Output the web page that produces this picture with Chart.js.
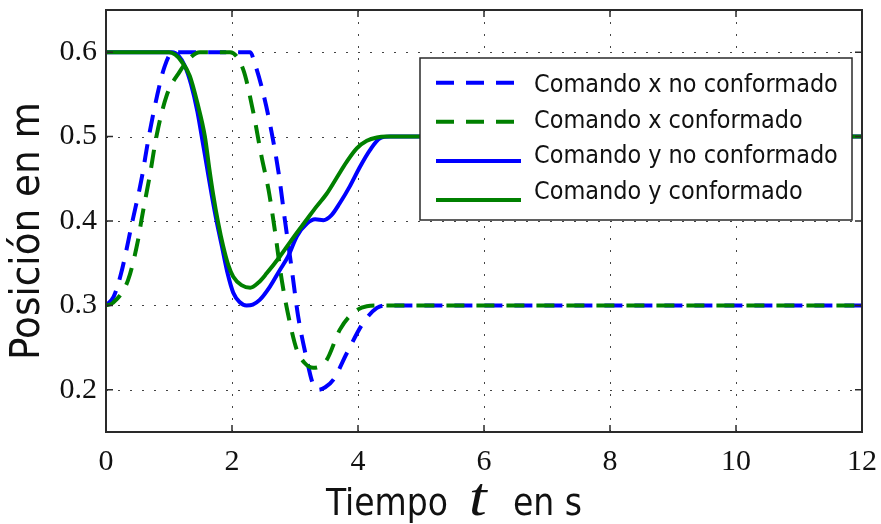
<!DOCTYPE html>
<html>
<head>
<meta charset="utf-8">
<script src="https://cdn.jsdelivr.net/npm/chart.js@4.4.1/dist/chart.umd.min.js"></script>
<style>
  html, body { margin: 0; padding: 0; background: #ffffff; }
  #wrap { width: 881px; height: 524px; }
</style>
</head>
<body>
<div id="wrap"><canvas id="c" width="881" height="524"></canvas></div>
<script>
// Command x, unshaped: time (s) and position (m)
const tXNoConf = [0, 0.12, 0.24, 0.42, 0.56, 0.68, 0.81, 0.93, 1.06, 2.29, 2.36, 2.47, 2.6, 2.74, 2.84, 2.95, 3.05, 3.19, 3.28, 3.37, 3.48, 3.61, 3.82, 4.08, 4.3, 4.45, 12];
const xNoConf  = [0.3, 0.31, 0.338, 0.4, 0.448, 0.5, 0.548, 0.583, 0.6, 0.6, 0.587, 0.559, 0.516, 0.457, 0.401, 0.342, 0.287, 0.235, 0.208, 0.2, 0.203, 0.212, 0.243, 0.279, 0.297, 0.3, 0.3];

// Command x, shaped
const tXConf = [0, 0.11, 0.35, 0.51, 0.56, 0.7, 0.8, 0.96, 1.17, 1.33, 1.49, 1.97, 2.18, 2.34, 2.47, 2.58, 2.68, 2.79, 2.92, 3.03, 3.15, 3.29, 3.5, 3.71, 3.92, 4.14, 4.35, 12];
const xConf  = [0.3, 0.303, 0.33, 0.378, 0.4, 0.456, 0.5, 0.548, 0.577, 0.593, 0.6, 0.6, 0.579, 0.528, 0.476, 0.437, 0.389, 0.33, 0.279, 0.247, 0.232, 0.226, 0.235, 0.271, 0.291, 0.299, 0.3, 0.3];

// Command y, unshaped
const tYNoConf = [0, 1.05, 1.15, 1.25, 1.35, 1.45, 1.52, 1.6, 1.68, 1.76, 1.84, 1.93, 2.02, 2.12, 2.23, 2.33, 2.44, 2.6, 2.76, 2.89, 3.03, 3.19, 3.32, 3.45, 3.58, 3.71, 3.87, 4.03, 4.19, 4.35, 4.51, 12];
const yNoConf  = [0.6, 0.6, 0.596, 0.584, 0.562, 0.53, 0.5, 0.465, 0.43, 0.398, 0.37, 0.338, 0.315, 0.304, 0.3, 0.301, 0.3065, 0.322, 0.342, 0.358, 0.382, 0.397, 0.402, 0.401, 0.407, 0.421, 0.441, 0.464, 0.484, 0.498, 0.5, 0.5];

// Command y, shaped
const tYConf = [0, 1.0, 1.1, 1.2, 1.33, 1.45, 1.57, 1.64, 1.7, 1.78, 1.86, 1.94, 2.02, 2.15, 2.29, 2.42, 2.55, 2.76, 2.97, 3.19, 3.34, 3.5, 3.66, 3.82, 3.98, 4.14, 4.3, 4.45, 12];
const yConf  = [0.6, 0.6, 0.597, 0.589, 0.572, 0.54, 0.5, 0.462, 0.432, 0.398, 0.37, 0.348, 0.334, 0.324, 0.321, 0.327, 0.338, 0.358, 0.38, 0.402, 0.417, 0.432, 0.451, 0.47, 0.486, 0.495, 0.499, 0.5, 0.5];

const seriesLabels = ['Comando x no conformado', 'Comando x conformado', 'Comando y no conformado', 'Comando y conformado'];
const xTicks = [0, 2, 4, 6, 8, 10, 12];
const yTicks = [0.2, 0.3, 0.4, 0.5, 0.6];

const BLUE = '#0000ff';
const GREEN = '#008000';
const DASH = [18, 12];
const SANS = '"DejaVu Sans Condensed", "DejaVu Sans", sans-serif';
const SERIF = '"Liberation Serif", "Times New Roman", serif';

const pairs = (ts, vs) => ts.map((t, i) => ({ x: t, y: vs[i] }));

function lineSet(label, ts, vs, color, dashed, order) {
  return {
    label, data: pairs(ts, vs),
    borderColor: color, backgroundColor: color,
    borderWidth: 4, borderDash: dashed ? DASH : [],
    borderCapStyle: 'butt', borderJoinStyle: 'round',
    pointRadius: 0, pointHoverRadius: 0,
    cubicInterpolationMode: 'monotone', fill: false, order
  };
}

// font size that makes a string span a given width
function fitSize(ctx, text, width, family, style) {
  ctx.font = `${style || ''} 100px ${family}`;
  return 100 * width / ctx.measureText(text).width;
}

// keep the plot area set by the layout padding alone
function noEdgePadding(s) {
  s.paddingTop = 0; s.paddingBottom = 0; s.paddingLeft = 0; s.paddingRight = 0;
}

// dotted grid lines inside the plot area
const dottedGrid = {
  id: 'dottedGrid',
  beforeDatasetsDraw(chart) {
    const { ctx, chartArea: a, scales: { x, y } } = chart;
    ctx.save();
    ctx.strokeStyle = '#444';
    ctx.lineWidth = 1;
    ctx.setLineDash([2, 10]);
    xTicks.forEach(v => {
      const px = Math.round(x.getPixelForValue(v)) + 0.5;
      if (px <= a.left + 1 || px >= a.right - 1) return;
      ctx.beginPath(); ctx.moveTo(px, a.bottom); ctx.lineTo(px, a.top); ctx.stroke();
    });
    yTicks.forEach(v => {
      const py = Math.round(y.getPixelForValue(v)) + 0.5;
      ctx.beginPath(); ctx.moveTo(a.left, py); ctx.lineTo(a.right, py); ctx.stroke();
    });
    ctx.restore();
  }
};

// axes box with inward tick marks on all four sides
const axesBox = {
  id: 'axesBox',
  afterDatasetsDraw(chart) {
    const { ctx, chartArea: a, scales: { x, y } } = chart;
    const L = 7;
    ctx.save();
    ctx.strokeStyle = '#2a2a2a';
    ctx.lineWidth = 2;
    ctx.setLineDash([]);
    ctx.strokeRect(a.left, a.top, a.right - a.left, a.bottom - a.top);
    ctx.lineWidth = 1.5;
    ctx.beginPath();
    xTicks.forEach(v => {
      const px = x.getPixelForValue(v);
      ctx.moveTo(px, a.bottom); ctx.lineTo(px, a.bottom - L);
      ctx.moveTo(px, a.top); ctx.lineTo(px, a.top + L);
    });
    yTicks.forEach(v => {
      const py = y.getPixelForValue(v);
      ctx.moveTo(a.left, py); ctx.lineTo(a.left + L, py);
      ctx.moveTo(a.right, py); ctx.lineTo(a.right - L, py);
    });
    ctx.stroke();
    ctx.restore();
  }
};

// boxed legend in the upper right of the plot
const boxedLegend = {
  id: 'boxedLegend',
  afterDraw(chart) {
    const { ctx } = chart;
    const bx = 420, by = 58, bw = 432, bh = 162;
    ctx.save();
    ctx.fillStyle = '#ffffff';
    ctx.fillRect(bx, by, bw, bh);
    ctx.strokeStyle = '#2a2a2a';
    ctx.lineWidth = 1.5;
    ctx.strokeRect(bx, by, bw, bh);
    const size = fitSize(ctx, seriesLabels[0], 304, SANS, '');
    ctx.font = `${size}px ${SANS}`;
    ctx.textBaseline = 'middle';
    ctx.textAlign = 'left';
    chart.data.datasets.forEach((ds, i) => {
      const ly = 82.7 + i * 39.1;
      const ty = 85.5 + i * 35.6;
      ctx.strokeStyle = ds.borderColor;
      ctx.lineWidth = 4;
      ctx.lineCap = 'butt';
      ctx.setLineDash(ds.borderDash || []);
      ctx.beginPath(); ctx.moveTo(436, ly); ctx.lineTo(521, ly); ctx.stroke();
      ctx.setLineDash([]);
      ctx.fillStyle = '#111';
      ctx.fillText(ds.label, 534, ty);
    });
    ctx.restore();
  }
};

// axis titles, with the time symbol set in italic serif
const axisTitles = {
  id: 'axisTitles',
  afterDraw(chart) {
    const { ctx } = chart;
    ctx.save();
    ctx.fillStyle = '#111';
    ctx.textBaseline = 'alphabetic';
    ctx.textAlign = 'left';
    const s = fitSize(ctx, 'Tiempo', 122, SANS, '');
    ctx.font = `${s}px ${SANS}`;
    ctx.fillText('Tiempo', 326, 515);
    ctx.fillText('en s', 513, 515);

    ctx.save();
    ctx.translate(469, 515);
    ctx.scale(1.18, 1);
    ctx.font = `italic 54px ${SERIF}`;
    ctx.fillText('t', 0, 0);
    ctx.restore();

    const ys = fitSize(ctx, 'Posición en m', 258, SANS, '');
    ctx.translate(39, 231);
    ctx.rotate(-Math.PI / 2);
    ctx.textAlign = 'center';
    ctx.font = `${ys}px ${SANS}`;
    ctx.fillText('Posición en m', 0, 0);
    ctx.restore();
  }
};

new Chart(document.getElementById('c'), {
  type: 'line',
  data: {
    datasets: [
      lineSet(seriesLabels[0], tXNoConf, xNoConf, BLUE, true, 3),
      lineSet(seriesLabels[1], tXConf, xConf, GREEN, true, 2),
      lineSet(seriesLabels[2], tYNoConf, yNoConf, BLUE, false, 1),
      lineSet(seriesLabels[3], tYConf, yConf, GREEN, false, 0)
    ]
  },
  options: {
    responsive: false,
    animation: false,
    devicePixelRatio: 1,
    layout: { padding: { left: 0, right: 19, top: 10, bottom: 0 } },
    plugins: { legend: { display: false }, tooltip: { enabled: false } },
    scales: {
      x: {
        type: 'linear', min: 0, max: 12,
        grid: { display: false, drawTicks: false },
        border: { display: false },
        afterBuildTicks: s => { s.ticks = xTicks.map(v => ({ value: v })); },
        afterFit: s => { s.height = 92; noEdgePadding(s); },
        ticks: {
          padding: 12, color: '#111', maxRotation: 0, autoSkip: false,
          font: { family: SERIF, size: 30 },
          callback: v => String(v)
        }
      },
      y: {
        type: 'linear', min: 0.15, max: 0.65,
        grid: { display: false, drawTicks: false },
        border: { display: false },
        afterBuildTicks: s => { s.ticks = yTicks.map(v => ({ value: v })); },
        afterFit: s => { s.width = 106; noEdgePadding(s); },
        ticks: {
          padding: 9, color: '#111', autoSkip: false,
          font: { family: SERIF, size: 30 },
          callback: v => v.toFixed(1)
        }
      }
    }
  },
  plugins: [dottedGrid, axesBox, boxedLegend, axisTitles]
});
</script>
</body>
</html>
